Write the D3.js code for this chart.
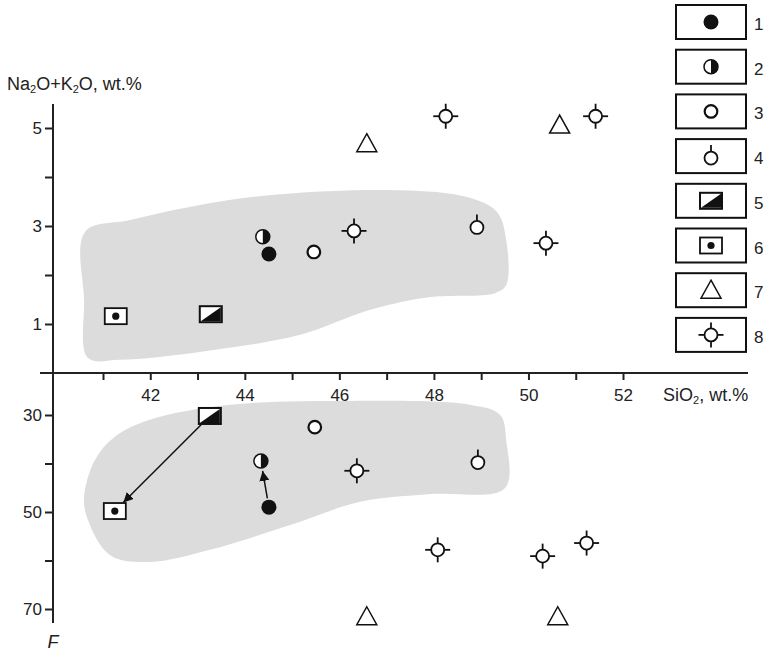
<!DOCTYPE html>
<html><head><meta charset="utf-8">
<script src="https://cdn.jsdelivr.net/npm/d3@7"></script>
<style>body{margin:0;background:#fff}svg{display:block}text{font-family:"Liberation Sans",Arial,sans-serif;fill:#222}</style>
</head><body><svg id="c" width="768" height="651"></svg>
<script>
// ---------- data ----------
const xTicks = [41,42,43,44,45,46,47,48,49,50,51,52];
const xTickLabels = [42,44,46,48,50,52];
const yTopTicks = [1,2,3,4,5];
const yTopLabels = [1,3,5];
const yBotTicks = [30,40,50,60,70];
const yBotLabels = [30,50,70];
const legendTypes = [1,2,3,4,5,6,7,8];

// alkali (Na2O+K2O) vs SiO2 : [type, SiO2, value]
const alkaliPts = [
  [1,44.51,2.43],[2,44.38,2.78],[3,45.46,2.47],[4,48.91,2.97],
  [5,43.28,1.20],[6,41.27,1.16],[7,46.58,4.68],[7,50.66,5.06],
  [8,48.25,5.24],[8,51.42,5.24],[8,46.31,2.90],[8,50.37,2.65]
];
// F vs SiO2
const fPts = [
  [5,43.26,30.2],[6,41.25,49.8],[2,44.34,39.5],[1,44.51,49.0],
  [3,45.48,32.5],[8,46.37,41.5],[4,48.93,39.8],[8,48.08,57.8],
  [8,50.30,59.1],[8,51.23,56.4],[7,46.58,71.6],[7,50.62,71.6]
];
// shaded fields [SiO2, value]
const fieldTop = [[40.62,2.88],[41.57,3.12],[43.05,3.43],[44.74,3.65],[47.28,3.73],[48.70,3.59],[49.33,3.29],[49.53,2.71],[49.53,1.80],[49.29,1.63],[47.92,1.55],[46.65,1.29],[45.17,0.78],[43.05,0.43],[41.36,0.27],[40.68,0.31],[40.60,1.49]];
const fieldBot = [[41.99,31.0],[43.69,27.9],[46.22,27.1],[48.76,27.9],[49.40,30.0],[49.53,35.2],[49.50,45.1],[47.92,46.3],[46.44,47.9],[44.96,52.7],[43.26,57.8],[41.99,60.3],[41.15,58.9],[40.68,51.6],[40.60,46.9],[40.83,39.3],[41.25,34.5]];
// arrows in F panel: [from SiO2, from F, to SiO2, to F]
const arrows = [[43.26,30.2,41.25,49.8],[44.51,49.0,44.34,39.5]];

// ---------- scales ----------
const svg = d3.select("#c");
const x = d3.scaleLinear().domain([41,52]).range([103,623]);
const yT = d3.scaleLinear().domain([0,5]).range([373,128]);
const yB = d3.scaleLinear().domain([30,70]).range([415,609]);
const axisX = 53;

// fields
const fieldLineT = d3.line().x(d=>x(d[0])).y(d=>yT(d[1])).curve(d3.curveCatmullRomClosed.alpha(0.5));
const fieldLineB = d3.line().x(d=>x(d[0])).y(d=>yB(d[1])).curve(d3.curveCatmullRomClosed.alpha(0.5));
svg.append("path").attr("d",fieldLineT(fieldTop)).attr("fill","#dcdcdc");
svg.append("path").attr("d",fieldLineB(fieldBot)).attr("fill","#dcdcdc");

// x axis
const xa = svg.append("g").attr("transform","translate(0,373)")
  .call(d3.axisBottom(x).tickValues(xTicks).tickSize(7).tickSizeOuter(0)
    .tickFormat(d=>xTickLabels.includes(d)?d:""));
xa.select(".domain").remove();
xa.selectAll("line").attr("stroke","#222").attr("stroke-width",2);
xa.selectAll("text").attr("font-size",17).attr("dy",0).attr("y",28).attr("fill","#222");
svg.append("line").attr("x1",40).attr("x2",748).attr("y1",373).attr("y2",373).attr("stroke","#222").attr("stroke-width",2);

// y axis top
function styleY(g){
  g.select(".domain").remove();
  g.selectAll("line").attr("stroke","#222").attr("stroke-width",2);
  g.selectAll("text").attr("font-size",17).attr("x",-11).attr("fill","#222");
}
svg.append("g").attr("transform",`translate(${axisX},0)`)
  .call(d3.axisLeft(yT).tickValues(yTopTicks).tickSize(8).tickSizeOuter(0)
    .tickFormat(d=>yTopLabels.includes(d)?d:"")).call(styleY);
svg.append("g").attr("transform",`translate(${axisX},0)`)
  .call(d3.axisLeft(yB).tickValues(yBotTicks).tickSize(8).tickSizeOuter(0)
    .tickFormat(d=>yBotLabels.includes(d)?d:"")).call(styleY);
svg.append("line").attr("x1",axisX).attr("x2",axisX).attr("y1",104).attr("y2",623).attr("stroke","#222").attr("stroke-width",2);

// titles
const yt = svg.append("text").attr("x",7).attr("y",90).attr("font-size",18);
yt.append("tspan").text("Na");
yt.append("tspan").text("2").attr("font-size",11).attr("dy",3);
yt.append("tspan").text("O+K").attr("dy",-3);
yt.append("tspan").text("2").attr("font-size",11).attr("dy",3);
yt.append("tspan").text("O, wt.%").attr("dy",-3);
const xt = svg.append("text").attr("x",663).attr("y",401).attr("font-size",18);
xt.append("tspan").text("SiO");
xt.append("tspan").text("2").attr("font-size",11).attr("dy",3);
xt.append("tspan").text(", wt.%").attr("dy",-3);
svg.append("text").attr("x",axisX).attr("y",648).attr("font-size",18).attr("font-style","italic").attr("text-anchor","middle").text("F");

// symbols
function sym(g, t, cx, cy){
  const k="#111";
  if(t===1){g.append("circle").attr("cx",cx).attr("cy",cy).attr("r",7.5).attr("fill",k);}
  else if(t===2){
    g.append("circle").attr("cx",cx).attr("cy",cy).attr("r",7).attr("fill","#fff").attr("stroke",k).attr("stroke-width",1.5);
    g.append("path").attr("d",`M${cx},${cy-7}A7,7 0 0 1 ${cx},${cy+7}Z`).attr("fill",k);
  } else if(t===3){
    g.append("circle").attr("cx",cx).attr("cy",cy).attr("r",6.3).attr("fill","#fff").attr("stroke",k).attr("stroke-width",2.2);
  } else if(t===4){
    g.append("circle").attr("cx",cx).attr("cy",cy).attr("r",6.5).attr("fill","#fff").attr("stroke",k).attr("stroke-width",1.8);
    g.append("line").attr("x1",cx).attr("x2",cx).attr("y1",cy-6.5).attr("y2",cy-13).attr("stroke",k).attr("stroke-width",1.8);
  } else if(t===5){
    g.append("rect").attr("x",cx-11).attr("y",cy-8).attr("width",22).attr("height",16).attr("fill","#fff").attr("stroke",k).attr("stroke-width",2);
    g.append("path").attr("d",`M${cx-10},${cy+7}L${cx+10},${cy-7}L${cx+10},${cy+7}Z`).attr("fill",k);
  } else if(t===6){
    g.append("rect").attr("x",cx-11).attr("y",cy-8).attr("width",22).attr("height",16).attr("fill","#fff").attr("stroke",k).attr("stroke-width",1.8);
    g.append("circle").attr("cx",cx).attr("cy",cy).attr("r",3.6).attr("fill",k);
  } else if(t===7){
    g.append("path").attr("d",`M${cx},${cy-10}L${cx+10},${cy+8}L${cx-10},${cy+8}Z`).attr("fill","#fff").attr("stroke",k).attr("stroke-width",1.5);
  } else if(t===8){
    g.append("circle").attr("cx",cx).attr("cy",cy).attr("r",6.5).attr("fill","#fff").attr("stroke",k).attr("stroke-width",1.8);
    [[0,-1],[0,1],[-1,0],[1,0]].forEach(([dx,dy])=>{
      g.append("line").attr("x1",cx+dx*6.5).attr("y1",cy+dy*6.5).attr("x2",cx+dx*12.5).attr("y2",cy+dy*12.5).attr("stroke",k).attr("stroke-width",1.8);
    });
  }
}

// arrows
svg.append("defs").append("marker").attr("id","ah").attr("viewBox","0 0 10 10").attr("refX",10).attr("refY",5)
  .attr("markerWidth",10).attr("markerHeight",10).attr("markerUnits","userSpaceOnUse").attr("orient","auto")
  .append("path").attr("d","M0,0L10,5L0,10Z").attr("fill","#111");
arrows.forEach((a,i)=>{
  const x1=x(a[0]),y1=yB(a[1]),x2=x(a[2]),y2=yB(a[3]);
  const L=Math.hypot(x2-x1,y2-y1), ux=(x2-x1)/L, uy=(y2-y1)/L;
  const s = i===0 ? 12 : 9, e = i===0 ? 12 : 10;
  svg.append("line").attr("x1",x1+ux*s).attr("y1",y1+uy*s).attr("x2",x2-ux*e).attr("y2",y2-uy*e)
    .attr("stroke","#111").attr("stroke-width",1.5).attr("marker-end","url(#ah)");
});

const gp = svg.append("g");
alkaliPts.forEach(p=>sym(gp,p[0],x(p[1]),yT(p[2])));
fPts.forEach(p=>sym(gp,p[0],x(p[1]),yB(p[2])));

// legend
const lg = svg.append("g");
legendTypes.forEach((t,i)=>{
  const top = 5 + i*44.7;
  lg.append("rect").attr("x",676).attr("y",top).attr("width",70).attr("height",34).attr("fill","#fff").attr("stroke","#111").attr("stroke-width",2);
  sym(lg,t,711,top+17 + (t===4?2:0));
  lg.append("text").attr("x",754).attr("y",top+25).attr("font-size",17).text(t);
});
</script></body></html>
